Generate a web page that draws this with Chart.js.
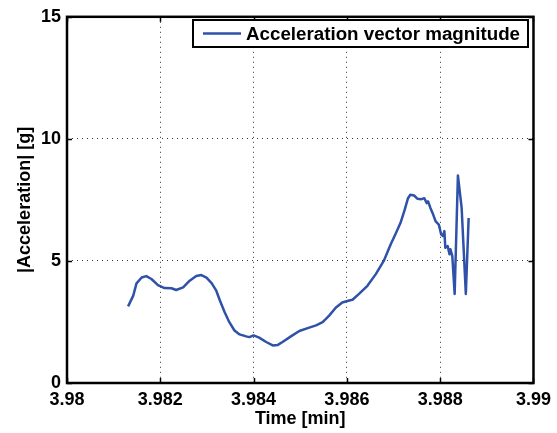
<!DOCTYPE html>
<html>
<head>
<meta charset="utf-8">
<script src="https://cdn.jsdelivr.net/npm/chart.js@4"></script>
<style>
  html, body { margin: 0; padding: 0; background: #fff; }
  canvas { display: block; }
</style>
</head>
<body>
<canvas id="accChart" width="557" height="433"></canvas>
<script>
// data
const timeMin = [
  3.98131, 3.98142, 3.98149, 3.98160, 3.98170, 3.98181, 3.98195, 3.98209, 3.98224, 3.98234,
  3.98249, 3.98263, 3.98277, 3.98288, 3.98299, 3.98310, 3.98320, 3.98328, 3.98338, 3.98348,
  3.98359, 3.98370, 3.98384, 3.98391, 3.98400, 3.98412, 3.98427, 3.98441, 3.98452, 3.98462,
  3.98480, 3.98498, 3.98516, 3.98534, 3.98548, 3.98562, 3.98576, 3.98590, 3.98603, 3.98612,
  3.98626, 3.98644, 3.98662, 3.98679, 3.98694, 3.98704, 3.98715, 3.98724, 3.98731, 3.98736,
  3.98744, 3.98751, 3.98760, 3.98766, 3.98771, 3.98774, 3.98779, 3.98785, 3.98790, 3.98797,
  3.98802, 3.98806, 3.98809, 3.98811, 3.98816, 3.98820, 3.98822, 3.98826, 3.98831, 3.98838,
  3.98846, 3.98855, 3.98861
];
const accelG = [
  3.14, 3.58, 4.08, 4.32, 4.38, 4.26, 4.01, 3.89, 3.88, 3.81,
  3.92, 4.19, 4.38, 4.42, 4.32, 4.09, 3.78, 3.37, 2.90, 2.49,
  2.15, 1.99, 1.91, 1.88, 1.95, 1.86, 1.68, 1.54, 1.56, 1.68,
  1.91, 2.13, 2.25, 2.36, 2.49, 2.76, 3.08, 3.30, 3.37, 3.41,
  3.65, 3.98, 4.46, 5.00, 5.68, 6.09, 6.56, 7.10, 7.57, 7.71,
  7.68, 7.55, 7.53, 7.57, 7.37, 7.44, 7.17, 6.90, 6.63, 6.49,
  6.09, 6.02, 6.22, 5.54, 5.61, 5.27, 5.48, 5.20, 3.65, 8.50,
  7.17, 3.65, 6.76
];
const xTickValues = [3.98, 3.982, 3.984, 3.986, 3.988, 3.99];
const yTickValues = [0, 5, 10, 15];
const seriesLabel = 'Acceleration vector magnitude';

const FONT = '"Liberation Sans", Arial, sans-serif';
const LINE_COLOR = '#2f52a8';

// frame, inward ticks and legend box like matlab
const matlabFrame = {
    id: 'matlabFrame',
    afterDraw(chart) {
        const { ctx, chartArea: a, scales } = chart;
        ctx.save();
        ctx.strokeStyle = '#000';
        ctx.lineWidth = 1.5;
        ctx.beginPath();
        xTickValues.forEach(v => {
            const px = Math.round(scales.x.getPixelForValue(v)) + 0.5;
            ctx.moveTo(px, a.bottom); ctx.lineTo(px, a.bottom - 5);
            ctx.moveTo(px, a.top); ctx.lineTo(px, a.top + 5);
        });
        yTickValues.forEach(v => {
            const py = Math.round(scales.y.getPixelForValue(v)) + 0.5;
            ctx.moveTo(a.left, py); ctx.lineTo(a.left + 5, py);
            ctx.moveTo(a.right, py); ctx.lineTo(a.right - 5, py);
        });
        ctx.stroke();

        ctx.lineWidth = 2.5;
        ctx.strokeRect(a.left, a.top, a.right - a.left, a.bottom - a.top);

        // legend
        const lx = 193, ly = 20, lw = 335, lh = 27;
        ctx.fillStyle = '#fff';
        ctx.fillRect(lx, ly, lw, lh);
        ctx.lineWidth = 2;
        ctx.strokeStyle = '#000';
        ctx.strokeRect(lx, ly, lw, lh);
        ctx.strokeStyle = LINE_COLOR;
        ctx.lineWidth = 2.5;
        ctx.beginPath();
        ctx.moveTo(203, ly + lh / 2);
        ctx.lineTo(241, ly + lh / 2);
        ctx.stroke();
        ctx.fillStyle = '#000';
        ctx.font = 'bold 18.75px ' + FONT;
        ctx.textBaseline = 'middle';
        ctx.fillText(chart.data.datasets[0].label, 246, ly + lh / 2 + 1);
        ctx.restore();
    }
};

const gridColor = (ctx, edges) => edges.includes(ctx.tick.value) ? 'rgba(0,0,0,0)' : '#333';

new Chart(document.getElementById('accChart'), {
    type: 'line',
    data: {
        datasets: [{
            label: seriesLabel,
            data: timeMin.map((t, i) => ({ x: t, y: accelG[i] })),
            borderColor: LINE_COLOR,
            borderWidth: 2.5,
            borderJoinStyle: 'round',
            pointRadius: 0,
            fill: false,
            tension: 0
        }]
    },
    options: {
        responsive: false,
        animation: false,
        layout: { padding: { top: 14, right: 22, left: 0, bottom: 0 } },
        plugins: { legend: { display: false }, tooltip: { enabled: false } },
        scales: {
            x: {
                type: 'linear',
                min: 3.98,
                max: 3.99,
                afterBuildTicks: s => { s.ticks = xTickValues.map(v => ({ value: v })); },
                afterFit: s => { s.height = 50; },
                ticks: {
                    autoSkip: false,
                    maxRotation: 0,
                    padding: 6,
                    color: '#000',
                    font: { family: FONT, size: 18, weight: 'bold' },
                    callback: v => String(+v.toFixed(3))
                },
                grid: { drawTicks: false, color: c => gridColor(c, [3.98, 3.99]), lineWidth: 1 },
                border: { display: false, dash: [1, 4] },
                title: {
                    display: true,
                    text: 'Time [min]',
                    color: '#000',
                    font: { family: FONT, size: 18, weight: 'bold' },
                    padding: { top: 0, bottom: 3 }
                }
            },
            y: {
                min: 0,
                max: 15,
                afterBuildTicks: s => { s.ticks = yTickValues.map(v => ({ value: v })); },
                afterFit: s => { s.width = 67; },
                ticks: {
                    padding: 6,
                    color: '#000',
                    font: { family: FONT, size: 18, weight: 'bold' }
                },
                grid: { drawTicks: false, color: c => gridColor(c, [0, 15]), lineWidth: 1 },
                border: { display: false, dash: [1, 4] },
                title: {
                    display: true,
                    text: '|Acceleration| [g]',
                    color: '#000',
                    font: { family: FONT, size: 18, weight: 'bold' },
                    padding: { top: 14, bottom: 0 }
                }
            }
        }
    },
    plugins: [matlabFrame]
});
</script>
</body>
</html>
